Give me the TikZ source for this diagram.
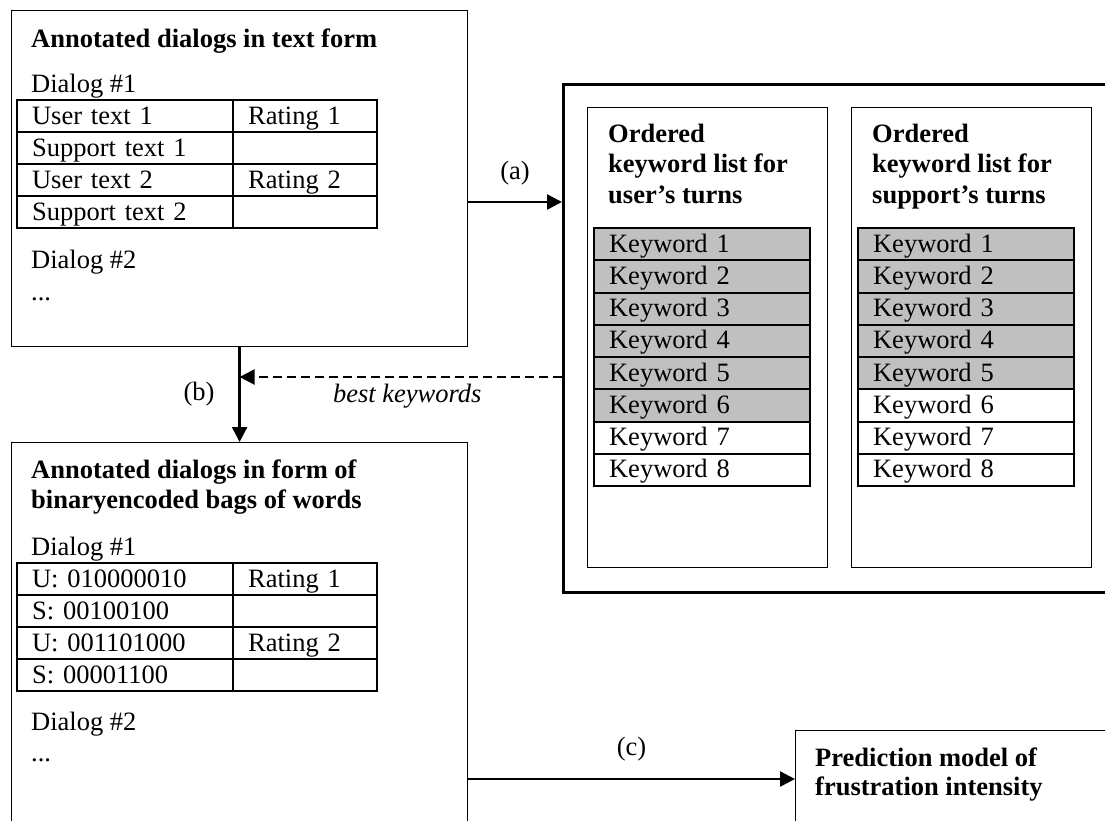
\documentclass[tikz,border=0pt]{standalone}
\usepackage{fontspec}
\setmainfont{Liberation Serif}
\usetikzlibrary{arrows.meta,positioning}

\definecolor{kwgrey}{HTML}{C0C0C0}
\newcommand{\figfont}{\fontsize{26.5pt}{30.6pt}\selectfont}

\tikzset{
    box/.style={draw, line width=1.2pt, anchor=north west, inner sep=0pt},
    cell/.style={draw, line width=2.2pt, anchor=north west, inner xsep=15pt, inner ysep=0pt,
        minimum height=32pt, text height=20pt, text depth=4pt, align=left},
    wide/.style={cell, text width=186pt},
    narrow/.style={cell, text width=114pt},
    txt/.style={anchor=base west, inner sep=0pt},
    head/.style={txt, font=\figfont\bfseries},
    flow/.style={->, line width=2.4pt},
    lbl/.style={draw=none, inner sep=2pt}
}

\begin{document}
\begin{tikzpicture}[x=1pt, y=-1pt, >={Triangle[length=15pt, width=15pt]},
        every node/.style={font=\figfont}]
    \useasboundingbox (0,0) rectangle (1105,820);
    \clip (0,0) rectangle (1105,820);

    % Dialogs in text form
    \node[box, minimum width=456pt, minimum height=336pt] (textdlg) at (11,10) {};
    \node[head] (texthead) at (31,47) {Annotated dialogs in text form};
    \node[txt] (textd1) at (31,92) {Dialog \#1};
    \foreach \u/\r [count=\i from 0] in {User text 1/Rating 1, Support text 1/{},
            User text 2/Rating 2, Support text 2/{}} {
        \node[wide] (textl\i) at (16,{99+32*\i}) {\u};
        \node[narrow] (textr\i) at (232,{99+32*\i}) {\r};
    }
    \node[txt] (textd2) at (31,268) {Dialog \#2};
    \node[txt] (textdots) at (31,300) {...};

    % Dialogs as bags of words
    \node[box, minimum width=456pt, minimum height=420pt] (bagdlg) at (11,442) {};
    \node[head] (baghead1) at (31,478) {Annotated dialogs in form of};
    \node[head] (baghead2) at (31,508) {binaryencoded bags of words};
    \node[txt] (bagd1) at (31,555) {Dialog \#1};
    \foreach \u/\r [count=\i from 0] in {U: 010000010/Rating 1, S: 00100100/{},
            U: 001101000/Rating 2, S: 00001100/{}} {
        \node[wide] (bagl\i) at (16,{562+32*\i}) {\u};
        \node[narrow] (bagr\i) at (232,{562+32*\i}) {\r};
    }
    \node[txt] (bagd2) at (31,730) {Dialog \#2};
    \node[txt] (bagdots) at (31,761) {...};

    % Keyword lists
    \node[draw, line width=3pt, anchor=north west, inner sep=0pt,
        minimum width=560pt, minimum height=508.5pt] (panel) at (562,82.5) {};
    \node[box, minimum width=240pt, minimum height=460pt] (userlist) at (587,106.5) {};
    \node[box, minimum width=240pt, minimum height=460pt] (suplist) at (851,106.5) {};

    \node[head] (userhead1) at (608,142) {Ordered};
    \node[head] (userhead2) at (608,172.6) {keyword list for};
    \node[head] (userhead3) at (608,203.2) {user’s turns};
    \node[head] (suphead1) at (872,142) {Ordered};
    \node[head] (suphead2) at (872,172.6) {keyword list for};
    \node[head] (suphead3) at (872,203.2) {support’s turns};

    \foreach \k in {1,...,8} {
        \ifnum\k<7 \def\ufill{kwgrey}\else\def\ufill{white}\fi
        \ifnum\k<6 \def\sfill{kwgrey}\else\def\sfill{white}\fi
        \node[wide, minimum height=32.25pt, fill=\ufill] (userkw\k) at (593,{227+32.25*(\k-1)}) {Keyword \k};
        \node[wide, minimum height=32.25pt, fill=\sfill] (supkw\k) at (857,{227+32.25*(\k-1)}) {Keyword \k};
    }

    % Prediction model
    \node[box, minimum width=330pt, minimum height=120pt] (model) at (795,730) {};
    \node[head] (modelhead1) at (815,766) {Prediction model of};
    \node[head] (modelhead2) at (815,795) {frustration intensity};

    % Edges
    \coordinate (ya) at (0,202);
    \coordinate (yb) at (0,377);
    \coordinate (yc) at (0,779);

    \draw[flow] (textdlg.east |- ya) -- (panel.west |- ya)
        node[midway, above, lbl, yshift=14pt] {(a)};

    \draw[flow] (textdlg.south) -- (bagdlg.north)
        node[midway, left, lbl, xshift=-22pt] {(b)};

    \draw[flow, dash pattern=on 9pt off 5pt] (panel.west |- yb) -- (textdlg.south |- yb)
        node[pos=0.48, below, lbl, yshift=-4pt] {\itshape best keywords};

    \draw[flow] (bagdlg.east |- yc) -- (model.west |- yc)
        node[midway, above, lbl, yshift=15pt] {(c)};
\end{tikzpicture}
\end{document}
